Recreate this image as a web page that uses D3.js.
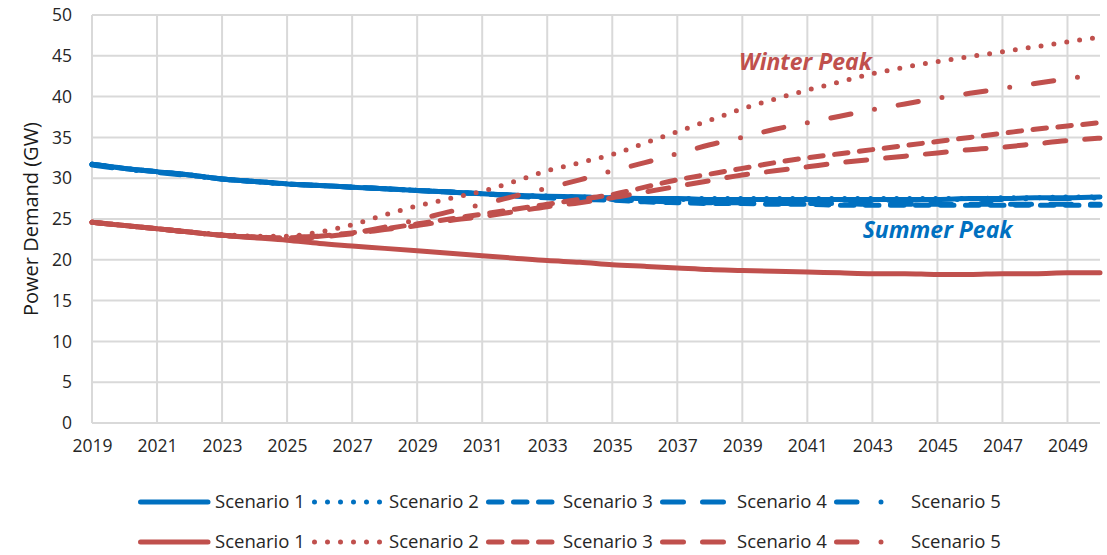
<!DOCTYPE html>
<html>
<head>
<meta charset="utf-8">
<script src="https://cdn.jsdelivr.net/npm/d3@7"></script>
<style>
  html, body { margin: 0; padding: 0; background: #fff; }
  svg { display: block; font-family: "Open Sans", sans-serif; }
</style>
</head>
<body>
<div id="chart"></div>
<script>
// Years on the x axis
const years = d3.range(2019, 2051);
const tickYears = d3.range(2019, 2050, 2);
const yTicks = d3.range(0, 51, 5);
const scenarioNames = ["Scenario 1", "Scenario 2", "Scenario 3", "Scenario 4", "Scenario 5"];

// Summer peak (blue), GW
const summer1 = [31.7, 31.2, 30.8, 30.4, 29.9, 29.6, 29.3, 29.1, 28.9, 28.7, 28.5, 28.3, 28.1, 27.9, 27.8, 27.7, 27.6, 27.5, 27.5, 27.4, 27.4, 27.4, 27.4, 27.4, 27.4, 27.4, 27.4, 27.5, 27.5, 27.6, 27.6, 27.7];
const summer2 = [31.7, 31.2, 30.8, 30.4, 29.9, 29.6, 29.3, 29.1, 28.9, 28.7, 28.5, 28.3, 28.1, 27.9, 27.8, 27.7, 27.6, 27.5, 27.5, 27.5, 27.5, 27.5, 27.5, 27.5, 27.5, 27.5, 27.5, 27.5, 27.6, 27.6, 27.7, 27.7];
const summer3 = [31.7, 31.2, 30.8, 30.4, 29.9, 29.6, 29.3, 29.1, 28.9, 28.7, 28.5, 28.3, 28.1, 27.8, 27.6, 27.4, 27.3, 27.1, 27.0, 26.9, 26.9, 26.8, 26.8, 26.7, 26.7, 26.7, 26.7, 26.7, 26.7, 26.7, 26.7, 26.7];
const summer4 = [31.7, 31.2, 30.8, 30.4, 29.9, 29.6, 29.3, 29.1, 28.9, 28.7, 28.5, 28.3, 28.1, 27.9, 27.7, 27.5, 27.4, 27.2, 27.1, 27.0, 27.0, 26.9, 26.9, 26.9, 26.8, 26.8, 26.8, 26.8, 26.8, 26.8, 26.8, 26.8];
const summer5 = [31.6, 31.1, 30.7, 30.3, 29.9, 29.6, 29.3, 29.1, 28.9, 28.7, 28.5, 28.3, 28.1, 27.9, 27.8, 27.7, 27.6, 27.5, 27.4, 27.4, 27.3, 27.3, 27.3, 27.3, 27.3, 27.3, 27.4, 27.4, 27.4, 27.5, 27.5, 27.6];

// Winter peak (red), GW
const winter1 = [24.6, 24.2, 23.8, 23.4, 23.0, 22.7, 22.4, 22.0, 21.7, 21.4, 21.1, 20.8, 20.5, 20.2, 19.9, 19.7, 19.4, 19.2, 19.0, 18.8, 18.7, 18.6, 18.5, 18.4, 18.3, 18.3, 18.2, 18.2, 18.3, 18.3, 18.4, 18.4];
const winter2 = [24.6, 24.2, 23.8, 23.4, 23.1, 22.9, 22.9, 23.4, 24.3, 25.5, 26.6, 27.5, 28.4, 29.6, 30.9, 31.9, 32.9, 34.3, 35.7, 37.1, 38.5, 39.7, 40.8, 41.8, 42.8, 43.6, 44.3, 44.9, 45.5, 46.1, 46.7, 47.3];
const winter3 = [24.6, 24.2, 23.8, 23.4, 23.0, 22.8, 22.7, 22.9, 23.3, 23.8, 24.4, 25.0, 25.6, 26.2, 26.8, 27.4, 28.0, 28.9, 29.8, 30.5, 31.2, 31.9, 32.5, 33.0, 33.5, 34.0, 34.5, 35.0, 35.5, 36.0, 36.4, 36.8];
const winter4 = [24.6, 24.2, 23.8, 23.4, 23.0, 22.8, 22.6, 22.8, 23.2, 23.7, 24.2, 24.8, 25.3, 25.9, 26.5, 27.0, 27.6, 28.3, 29.0, 29.7, 30.4, 30.9, 31.4, 31.9, 32.3, 32.7, 33.1, 33.5, 33.8, 34.2, 34.6, 34.9];
const winter5 = [24.6, 24.2, 23.8, 23.4, 23.0, 22.8, 22.8, 22.9, 23.3, 24.0, 24.9, 25.9, 26.8, 27.8, 28.8, 29.8, 30.9, 31.9, 33.0, 34.1, 35.0, 36.0, 36.8, 37.6, 38.4, 39.1, 39.8, 40.4, 41.0, 41.6, 42.2, 42.8];

// Annotation anchors (year, GW)
const annotations = [
    { text: "Winter Peak", year: 2038.9, value: 43.3, color: "#C0504D" },
    { text: "Summer Peak", year: 2042.7, value: 22.7, color: "#0070C0" }
];

const BLUE = "#0070C0";
const RED = "#C0504D";
const dashes = ["none", "0,13", "13.5,11.5", "21,19", "20.5,24,0,24"];

const width = 1107, height = 555;
const x = d3.scaleLinear().domain([2019, 2050]).range([92, 1100]);
const y = d3.scaleLinear().domain([0, 50]).range([423, 15]);

const svg = d3.select("#chart").append("svg")
    .attr("width", width)
    .attr("height", height);

// Gridlines
svg.append("g")
    .attr("stroke", "#D9D9D9")
    .attr("stroke-width", 2)
    .selectAll("line")
    .data(yTicks)
    .join("line")
    .attr("x1", x(2019)).attr("x2", x(2050))
    .attr("y1", d => y(d)).attr("y2", d => y(d));

svg.append("g")
    .attr("stroke", "#D9D9D9")
    .attr("stroke-width", 2)
    .selectAll("line")
    .data(tickYears)
    .join("line")
    .attr("x1", d => x(d)).attr("x2", d => x(d))
    .attr("y1", y(0)).attr("y2", y(50));

// Axes (labels only)
const yAxis = svg.append("g")
    .attr("transform", `translate(${x(2019) - 20},0)`)
    .call(d3.axisLeft(y).tickValues(yTicks).tickSize(0).tickPadding(0));
yAxis.select(".domain").remove();
yAxis.selectAll("text")
    .attr("font-family", "Open Sans")
    .attr("font-size", 17.5)
    .attr("fill", "#262626");

const xAxis = svg.append("g")
    .attr("transform", `translate(0,${y(0) + 17})`)
    .call(d3.axisBottom(x).tickValues(tickYears).tickFormat(d3.format("d")).tickSize(0).tickPadding(0));
xAxis.select(".domain").remove();
xAxis.selectAll("text")
    .attr("font-family", "Open Sans")
    .attr("font-size", 17.5)
    .attr("fill", "#262626");

svg.append("text")
    .attr("transform", `translate(38,${(y(0) + y(50)) / 2}) rotate(-90)`)
    .attr("text-anchor", "middle")
    .attr("font-size", 20)
    .attr("fill", "#1a1a1a")
    .text("Power Demand (GW)");

// Series
const series = [
    { color: BLUE, data: [summer1, summer2, summer3, summer4, summer5] },
    { color: RED, data: [winter1, winter2, winter3, winter4, winter5] }
];

const line = d3.line()
    .x((d, i) => x(years[i]))
    .y(d => y(d))
    .curve(d3.curveMonotoneX);

series.forEach(s => {
    s.data.forEach((vals, k) => {
        svg.append("path")
            .datum(vals)
            .attr("fill", "none")
            .attr("stroke", s.color)
            .attr("stroke-width", 5)
            .attr("stroke-linecap", "round")
            .attr("stroke-linejoin", "round")
            .attr("stroke-dasharray", dashes[k])
            .attr("d", line);
    });
});

// Annotations
svg.selectAll("text.anno")
    .data(annotations)
    .join("text")
    .attr("class", "anno")
    .attr("x", d => x(d.year))
    .attr("y", d => y(d.value))
    .attr("font-size", 23)
    .attr("font-weight", "bold")
    .attr("font-style", "italic")
    .attr("fill", d => d.color)
    .text(d => d.text);

// Legend: two rows, 5 entries each
const legendX = d3.scalePoint().domain(scenarioNames).range([138, 834]);
const legendRows = [{ color: BLUE, y: 502 }, { color: RED, y: 542 }];

legendRows.forEach(row => {
    const g = svg.append("g");
    scenarioNames.forEach((name, k) => {
        const lx = legendX(name);
        g.append("line")
            .attr("x1", lx + 2.5).attr("x2", lx + 70)
            .attr("y1", row.y).attr("y2", row.y)
            .attr("stroke", row.color)
            .attr("stroke-width", 5)
            .attr("stroke-linecap", "round")
            .attr("stroke-dasharray", dashes[k]);
        g.append("text")
            .attr("x", lx + 77)
            .attr("y", row.y)
            .attr("dy", "0.35em")
            .attr("font-size", 18.5)
            .attr("fill", "#262626")
            .text(name);
    });
});
</script>
</body>
</html>
